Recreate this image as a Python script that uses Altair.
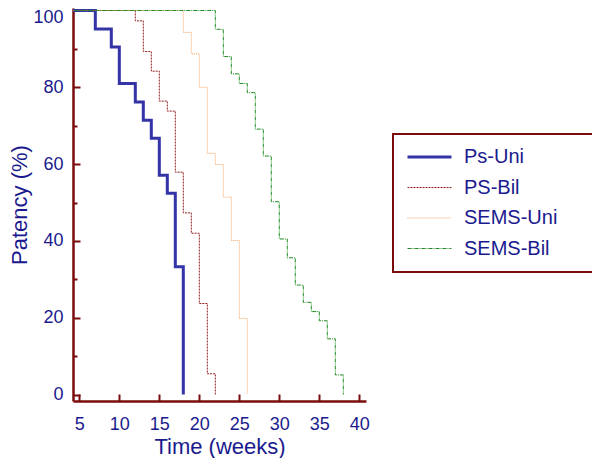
import altair as alt
import pandas as pd

# ---- data ----
series = ["Ps-Uni", "PS-Bil", "SEMS-Uni", "SEMS-Bil"]

ps_uni_t = [0, 7, 9, 10, 12, 13, 14, 15, 16, 17, 18]
ps_uni_p = [100, 95.2, 90.5, 81.0, 76.2, 71.4, 66.7, 57.1, 52.4, 33.3, 0]

ps_bil_t = [0, 12, 13, 14, 15, 16, 17, 18, 19, 20, 21, 22]
ps_bil_p = [100, 97.3, 89.3, 84.2, 76.4, 73.8, 57.9, 47.3, 42.0, 23.7, 5.4, 0]

sems_uni_t = [0, 18, 19, 20, 21, 22, 23, 24, 25, 26]
sems_uni_p = [100, 94.3, 88.7, 80.0, 62.8, 59.9, 51.4, 40.1, 19.8, 0]

sems_bil_t = [0, 22, 23, 24, 25, 26, 27, 28, 29, 30, 31, 32, 33, 34, 35, 36, 37, 38]
sems_bil_p = [100, 95.1, 88.0, 83.5, 81.0, 78.6, 69.1, 62.1, 50.2, 40.5, 35.6,
              28.5, 24.0, 21.6, 19.2, 14.5, 5.1, 0]

x_ticks = [5, 10, 15, 20, 25, 30, 35, 40]
y_ticks = [0, 20, 40, 60, 80, 100]
y_minor = [10, 30, 50, 70, 90]

# ---- styles ----
colors = ["#3434a6", "#8e1d1d", "#f4a261", "#1f8a22"]
dashes = [[1, 0], [2, 1], [1, 1], [4, 1, 1, 1]]
widths = [3, 1, 1, 1]
axis_col = "#7b0c0c"
text_col = "#1a1a8e"
font = "Liberation Sans"
# invisible trailing room so the legend box reaches the reference width
pad_label = "\u00a0" * 4 + "\u200b"

rows = []
for name, ts, ps in zip(series,
                        [ps_uni_t, ps_bil_t, sems_uni_t, sems_bil_t],
                        [ps_uni_p, ps_bil_p, sems_uni_p, sems_bil_p]):
    for i, (t, p) in enumerate(zip(ts, ps)):
        rows.append({"series": name, "time": t, "patency": p, "idx": i})
df = pd.DataFrame(rows)

xscale = alt.Scale(domain=[4.21, 40.84], nice=False, zero=False)
yscale = alt.Scale(domain=[-1.69, 100.65], nice=False, zero=False)

leg = alt.Legend(title=None, labelExpr="datum.label + '" + pad_label + "'")

x_main = alt.Axis(values=x_ticks, domain=True, domainColor=axis_col, domainWidth=2.5,
                  ticks=False, grid=False, labelFont=font, labelFontSize=18,
                  labelColor=text_col, labelPadding=14, title="Time (weeks)",
                  titleFont=font, titleFontSize=22, titleFontWeight="normal",
                  titleColor=text_col, titlePadding=3, orient="bottom")
y_main = alt.Axis(values=y_ticks, domain=True, domainColor=axis_col, domainWidth=2.5,
                  ticks=False, grid=False, labelFont=font, labelFontSize=18,
                  labelColor=text_col, labelPadding=10, labelFlush=4, labelFlushOffset=2,
                  title="Patency (%)",
                  titleFont=font, titleFontSize=22, titleFontWeight="normal",
                  titleColor=text_col, titlePadding=1, orient="left")

lines = alt.Chart(df).mark_line(interpolate="step-after", clip=True).encode(
    x=alt.X("time:Q", scale=xscale, axis=x_main),
    y=alt.Y("patency:Q", scale=yscale, axis=y_main),
    color=alt.Color("series:N", scale=alt.Scale(domain=series, range=colors), legend=leg),
    strokeDash=alt.StrokeDash("series:N", scale=alt.Scale(domain=series, range=dashes), legend=leg),
    strokeWidth=alt.StrokeWidth("series:N",
                                scale=alt.Scale(type="ordinal", domain=series, range=widths),
                                legend=leg),
    order=alt.Order("idx:Q"),
)

x_ticks_axis = alt.Axis(values=x_ticks, domain=False, ticks=True, tickSize=7, tickWidth=2,
                        tickColor=axis_col, labels=False, grid=False, title=None,
                        offset=-7, orient="bottom")
y_ticks_axis = alt.Axis(values=y_ticks, domain=False, ticks=True, tickSize=7, tickWidth=2,
                        tickColor=axis_col, labels=False, grid=False, title=None,
                        offset=-7, orient="left")
y_minor_axis = alt.Axis(values=y_minor, domain=False, ticks=True, tickSize=4, tickWidth=2,
                        tickColor=axis_col, labels=False, grid=False, title=None,
                        offset=-4, orient="left")

ticks_layer = alt.Chart(df).mark_line(strokeOpacity=0, clip=True).encode(
    x=alt.X("time:Q", scale=xscale, axis=x_ticks_axis),
    y=alt.Y("patency:Q", scale=yscale, axis=y_ticks_axis),
    detail="series:N",
)
minor_layer = alt.Chart(df).mark_line(strokeOpacity=0, clip=True).encode(
    x=alt.X("time:Q", scale=xscale, axis=None),
    y=alt.Y("patency:Q", scale=yscale, axis=y_minor_axis),
    detail="series:N",
)

chart = alt.layer(lines, ticks_layer, minor_layer).resolve_axis(
    x="independent", y="independent"
).properties(
    width=293, height=393,
    padding={"left": 65, "top": 0, "right": 226, "bottom": 57},
    autosize=alt.AutoSizeParams(type="none"),
    background="white",
).configure_view(stroke=None).configure_legend(
    orient="none", legendX=320, legendY=126,
    strokeColor=axis_col, strokeWidth=2, padding=13,
    clipHeight=20, rowPadding=10.5, symbolSize=1936, symbolType="stroke",
    labelOffset=11, labelFont=font, labelFontSize=20, labelColor=text_col,
    labelLimit=400,
)

chart.save("out.html", embed_options={"renderer": "svg", "actions": False})
